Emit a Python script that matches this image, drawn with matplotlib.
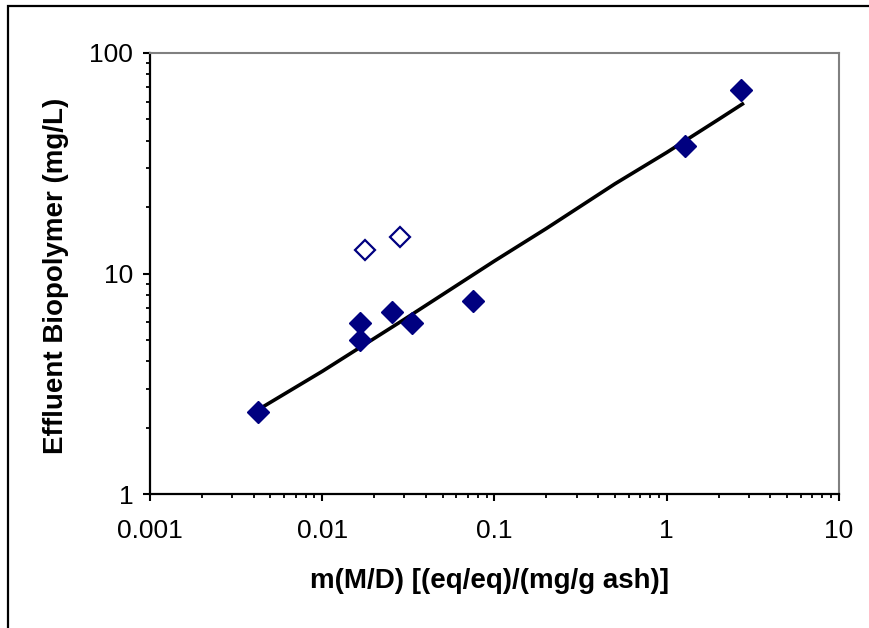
import matplotlib
matplotlib.use("Agg")
import matplotlib.pyplot as plt
import matplotlib.patches as patches
from matplotlib.ticker import LogLocator, NullFormatter, FixedLocator, FixedFormatter

plt.rcParams['font.family'] = ['Liberation Sans', 'DejaVu Sans']

# filled diamonds (data used in fit)
x_fit_pts = [0.00424, 0.0166, 0.0166, 0.0254, 0.0332, 0.0750, 1.28, 2.70]
y_fit_pts = [2.35, 5.96, 4.99, 6.69, 5.96, 7.5, 37.9, 67.9]

# open diamonds (excluded)
x_out = [0.0177, 0.0282]
y_out = [12.8, 14.6]

# fitted curve
x_line = [0.0042, 0.01, 0.03, 0.1, 0.2, 0.5, 1.0, 2.0, 2.75]
y_line = [2.4, 3.6, 6.2, 11.4, 16.0, 25.5, 35.4, 50.0, 58.7]

x_ticks = [0.001, 0.01, 0.1, 1, 10]
x_ticklabels = ['0.001', '0.01', '0.1', '1', '10']
y_ticks = [1, 10, 100]
y_ticklabels = ['1', '10', '100']

navy = '#000080'

fig = plt.figure(figsize=(8.7, 6.28), dpi=100)
ax = fig.add_axes([150 / 870, 1 - 494 / 628, (839 - 150) / 870, (494 - 53) / 628])

ax.plot(x_line, y_line, color='black', lw=2.6, zorder=2)
ax.plot(x_fit_pts, y_fit_pts, linestyle='none', marker='D', ms=10.8,
        mfc=navy, mec=navy, zorder=3)
ax.plot(x_out, y_out, linestyle='none', marker='D', ms=10,
        mfc='white', mec=navy, mew=1.6, zorder=3)

ax.set_xscale('log')
ax.set_yscale('log')
ax.set_xlim(0.001, 10)
ax.set_ylim(1, 100)

ax.xaxis.set_major_locator(FixedLocator(x_ticks))
ax.xaxis.set_major_formatter(FixedFormatter(x_ticklabels))
ax.yaxis.set_major_locator(FixedLocator(y_ticks))
ax.yaxis.set_major_formatter(FixedFormatter(y_ticklabels))
ax.xaxis.set_minor_locator(LogLocator(base=10, subs=range(2, 10)))
ax.yaxis.set_minor_locator(LogLocator(base=10, subs=range(2, 10)))
ax.xaxis.set_minor_formatter(NullFormatter())
ax.yaxis.set_minor_formatter(NullFormatter())

ax.tick_params(which='major', direction='out', length=5, width=1.5,
               labelsize=19, color='black')
ax.tick_params(which='minor', direction='out', length=3, width=1.3, color='black')
ax.tick_params(axis='x', which='major', pad=13)
ax.tick_params(axis='y', which='major', pad=7)

for side in ['left', 'bottom']:
    ax.spines[side].set_linewidth(1.6)
    ax.spines[side].set_color('black')
for side in ['top', 'right']:
    ax.spines[side].set_linewidth(1.5)
    ax.spines[side].set_color('#808080')

fig.text(490 / 870, 1 - 581 / 628, 'm(M/D) [(eq/eq)/(mg/g ash)]',
         ha='center', va='center', fontsize=20, fontweight='bold')
fig.text(56 / 870, 1 - 276 / 628, 'Effluent Biopolymer (mg/L)',
         ha='center', va='center', fontsize=20, fontweight='bold', rotation=90)

# outer chart frame
frame = patches.Rectangle((8 / 870, -0.05), 1.0, 1 - 6 / 628 + 0.05,
                          transform=fig.transFigure, fill=False,
                          edgecolor='black', lw=1.6)
fig.add_artist(frame)

fig.savefig('out.png', dpi=100, facecolor='white')
